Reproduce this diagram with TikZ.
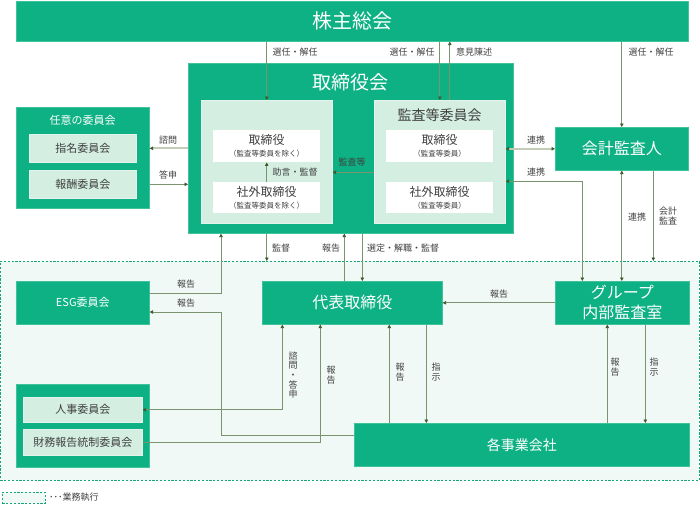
\documentclass[tikz,border=0pt]{standalone}
\usepackage{fontspec}
\setmainfont{Noto Sans CJK JP}
\usetikzlibrary{arrows.meta}
\definecolor{mg}{HTML}{0DB184}
\definecolor{mgb}{HTML}{40C29A}
\definecolor{lg}{HTML}{D4EEE2}
\definecolor{lgb}{HTML}{E4F4EC}
\definecolor{bgc}{HTML}{F1F9F6}
\definecolor{dsh}{HTML}{14A879}
\definecolor{ln}{HTML}{7A9470}
\definecolor{llc}{HTML}{C2CCB6}
\definecolor{ahc}{HTML}{3B5A2E}
\definecolor{tx}{HTML}{404040}
\tikzset{
  gbox/.style={draw=mgb, line width=0.6pt, fill=mg, text=white, inner sep=0pt, anchor=north west, align=center},
  lbox/.style={draw=lgb, line width=0.6pt, fill=lg, text=tx, inner sep=0pt, anchor=north west, align=center},
  wbox/.style={fill=white, text=tx, inner sep=0pt, anchor=north west, align=center},
  lbl/.style={text=tx, font=\fontsize{9}{9.6}\selectfont, inner sep=0pt, align=center},
  arr/.style={draw=ln, line width=0.8pt, ->},
  barr/.style={draw=ln, line width=0.8pt, <->},
  larr/.style={draw=llc, line width=1.8pt, ->},
  lbarr/.style={draw=llc, line width=1.8pt, <->},
  >={Triangle[length=3.5pt,width=3.5pt,color=ahc]},
  sub/.style={font=\fontsize{12}{13}\selectfont}
}
\newcommand{\subt}[1]{\\[-1pt]{\fontsize{7.5}{8}\selectfont #1}}
\begin{document}
\begin{tikzpicture}[x=1pt,y=-1pt]
\useasboundingbox (0,0) rectangle (700,511);
% execution region
\node[draw=dsh, dashed, dash pattern=on 2.2pt off 1.6pt, line width=0.8pt, fill=bgc, inner sep=0pt, anchor=north west, minimum width=699pt, minimum height=219pt] (exec) at (0,261) {};
% top
\node[gbox, minimum width=672pt, minimum height=40pt, font=\fontsize{20}{22}\selectfont] (share) at (16,1) {株主総会};
\node[gbox, minimum width=325pt, minimum height=170pt] (board) at (188,63) {};
\node[text=white, font=\fontsize{19}{21}\selectfont, inner sep=0pt] (boardT) at (350.5,82) {取締役会};
\node[lbox, minimum width=131pt, minimum height=123pt] (inL) at (201,100) {};
\node[lbox, minimum width=131pt, minimum height=123pt] (inR) at (374,100) {};
\node[text=tx, font=\fontsize{14}{16}\selectfont, inner sep=0pt] (inRT) at (439.5,115) {監査等委員会};
\node[wbox, sub, minimum width=107pt, minimum height=32pt] (wL1) at (213,130) {取締役\subt{（監査等委員を除く）}};
\node[wbox, sub, minimum width=107pt, minimum height=31pt] (wL2) at (213,182) {社外取締役\subt{（監査等委員を除く）}};
\node[wbox, sub, minimum width=107pt, minimum height=32pt] (wR1) at (386,130) {取締役\subt{（監査等委員）}};
\node[wbox, sub, minimum width=107pt, minimum height=31pt] (wR2) at (386,182) {社外取締役\subt{（監査等委員）}};
\node[gbox, minimum width=133pt, minimum height=43pt, font=\fontsize{16}{18}\selectfont] (audit) at (555,127) {会計監査人};
% optional committees
\node[gbox, minimum width=133pt, minimum height=101pt] (opt) at (16,107) {};
\node[text=white, font=\fontsize{11}{13}\selectfont, inner sep=0pt] (optT) at (82.5,120) {任意の委員会};
\node[lbox, minimum width=107pt, minimum height=28pt, font=\fontsize{11}{13}\selectfont] (nom) at (29,134) {指名委員会};
\node[lbox, minimum width=107pt, minimum height=28pt, font=\fontsize{11}{13}\selectfont] (rem) at (29,170) {報酬委員会};
% execution nodes
\node[gbox, minimum width=133pt, minimum height=43pt, font=\fontsize{11}{13}\selectfont] (esg) at (16,281) {ESG委員会};
\node[gbox, minimum width=133pt, minimum height=83pt] (grp2) at (16,384) {};
\node[lbox, minimum width=119pt, minimum height=25pt, font=\fontsize{11}{13}\selectfont] (hr) at (23,397) {人事委員会};
\node[lbox, minimum width=119pt, minimum height=26pt, font=\fontsize{11}{13}\selectfont] (fin) at (23,429) {財務報告統制委員会};
\node[gbox, minimum width=180pt, minimum height=43pt, font=\fontsize{16}{18}\selectfont] (rep) at (262,281) {代表取締役};
\node[gbox, minimum width=134pt, minimum height=43pt, font=\fontsize{16}{20}\selectfont] (gia) at (555,281) {グループ\\内部監査室};
\node[gbox, minimum width=335pt, minimum height=43pt, font=\fontsize{14}{16}\selectfont] (biz) at (354,423) {各事業会社};
% legend
\node[draw=dsh, dashed, dash pattern=on 2.2pt off 1.6pt, line width=0.8pt, fill=bgc, inner sep=0pt, anchor=north west, minimum width=43pt, minimum height=11pt] (leg) at (2,492) {};
\node[text=tx, font=\fontsize{9}{10}\selectfont, inner sep=0pt, anchor=west] (legT) at (49,497.5) {･･･業務執行};
\coordinate (c1) at (221,312);
% connectors top
\draw[arr] (inL.north |- share.south) -- (inL.north);
\draw[arr] (inR.north |- share.south) -- (inR.north);
\draw[arr] ([xshift=10pt]inR.north) -- ([xshift=10pt]inR.north |- share.south);
\draw[arr] (audit.north |- share.south) -- (audit.north);
\draw[lbarr] (inR.east |- audit.west) -- (audit.west);
\draw[barr] ([yshift=-19.5pt]inR.east) -| ([xshift=-40pt]gia.north);
\draw[barr] (audit.south) -- (audit.south |- gia.north);
\draw[arr] ([xshift=31.5pt]audit.south) -- ([xshift=31.5pt]audit.south |- exec.north);
\draw[larr] (board.west |- nom.east) -- (opt.east |- nom.east);
\draw[arr] (opt.east |- rem.east) -- (board.west |- rem.east);
\draw[arr] (wL2.north) -- (wL1.south);
\draw[arr] ([yshift=-10.5pt]inR.west) -- ([yshift=-10.5pt]inL.east);
% board <-> execution
\draw[arr] (inL.south |- board.south) -- (inL.south |- exec.north);
\draw[arr] ([xshift=-8pt]rep.north) -- ([xshift=-8pt]rep.north |- board.south);
\draw[arr] ([xshift=10pt]rep.north |- board.south) -- ([xshift=10pt]rep.north);
\draw[arr] ([yshift=9.5pt]esg.east) -| ([xshift=33pt]board.south west);
\draw[arr] ([yshift=9.5pt]biz.west) -| (c1) -- (c1 -| esg.east);
\draw[barr] ([xshift=-70pt]rep.south) |- (hr.east);
\draw[arr] (fin.east) -| ([xshift=-32pt]rep.south);
\draw[arr] ([xshift=37pt]rep.south |- biz.north) -- ([xshift=37pt]rep.south);
\draw[arr] ([xshift=74pt]rep.south) -- ([xshift=74pt]rep.south |- biz.north);
\draw[arr] (gia.west) -- (gia.west -| rep.east);
\draw[arr] ([xshift=-15pt]gia.south |- biz.north) -- ([xshift=-15pt]gia.south);
\draw[arr] ([xshift=23pt]gia.south) -- ([xshift=23pt]gia.south |- biz.north);
% labels
\node[lbl] (l1) at (295,52) {選任・解任};
\node[lbl] (l2) at (412,52) {選任・解任};
\node[lbl] (l3) at (474,52) {意見陳述};
\node[lbl] (l4) at (651,52) {選任・解任};
\node[lbl] (l5) at (168,140) {諮問};
\node[lbl] (l6) at (168,175) {答申};
\node[lbl] (l7) at (295,172) {助言・監督};
\node[lbl] (l8) at (352,162) {監査等};
\node[lbl] (l9) at (536,140) {連携};
\node[lbl] (l10) at (536,172) {連携};
\node[lbl] (l11) at (637,217) {連携};
\node[lbl] (l12) at (668,216) {会計\\監査};
\node[lbl] (l13) at (281,248) {監督};
\node[lbl] (l14) at (331,248) {報告};
\node[lbl] (l15) at (403,248) {選定・解職・監督};
\node[lbl] (l16) at (186,284) {報告};
\node[lbl] (l17) at (186,303) {報告};
\node[lbl] (l18) at (499,294) {報告};
\node[lbl] (l19) at (293,375) {諮\\問\\・\\答\\申};
\node[lbl] (l20) at (331,375) {報\\告};
\node[lbl] (l21) at (400,372) {報\\告};
\node[lbl] (l22) at (436,372) {指\\示};
\node[lbl] (l23) at (615,367) {報\\告};
\node[lbl] (l24) at (654,367) {指\\示};
\end{tikzpicture}
\end{document}
